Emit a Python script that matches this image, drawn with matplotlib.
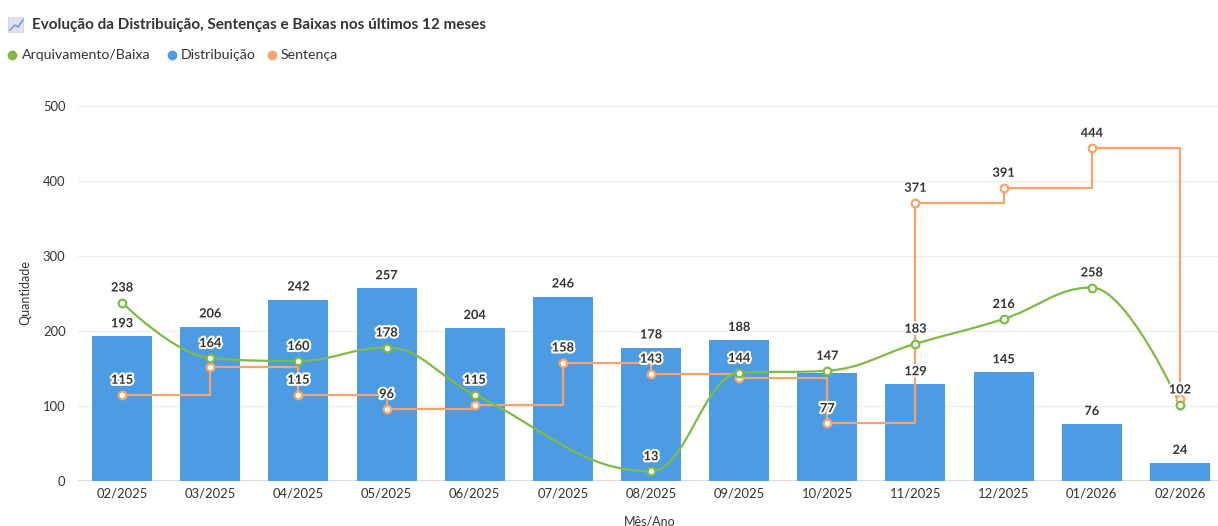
import numpy as np
import matplotlib
matplotlib.use('Agg')
import matplotlib.pyplot as plt
from matplotlib.path import Path
from matplotlib.patches import PathPatch, FancyBboxPatch
from matplotlib.lines import Line2D
import matplotlib.patheffects as pe

# ---------------- data ----------------
months = ['02/2025', '03/2025', '04/2025', '05/2025', '06/2025', '07/2025', '08/2025',
          '09/2025', '10/2025', '11/2025', '12/2025', '01/2026', '02/2026']
distribuicao = [193, 206, 242, 257, 204, 246, 178, 188, 144, 129, 145, 76, 24]
arquivamento = [238, 164, 160, 178, 115, None, 13, 144, 147, 183, 216, 258, 102]
sentenca = [115, 152, 115, 96, 102, 158, 143, 137, 77, 371, 391, 444, 110]
# labels hidden in the original because of overlap
hidden_dist = [8]
hidden_sent = [1, 4, 7, 12]

title = 'Evolução da Distribuição, Sentenças e Baixas nos últimos 12 meses'
series_names = ['Arquivamento/Baixa', 'Distribuição', 'Sentença']

C_BLUE = '#4d9be2'
C_GREEN = '#7dbb45'
C_ORANGE = '#f5a56c'
C_TEXT = '#333333'

plt.rcParams['font.family'] = ['Lato', 'DejaVu Sans']

W, H = 1218, 526
fig = plt.figure(figsize=(W / 100, H / 100), dpi=100)
fig.patch.set_facecolor('white')
ax = fig.add_axes([78 / W, (H - 481) / H, 1146 / W, 375 / H])

x = np.arange(len(months))
ax.set_xlim(-0.5, len(months) - 0.5)
ax.set_ylim(0, 500)

# grid
for yv in [100, 200, 300, 400, 500]:
    ax.axhline(yv, color='#efefef', lw=1, zorder=0)
ax.axhline(0, color='#d6d6d6', lw=1.2, zorder=1)
for s in ax.spines.values():
    s.set_visible(False)

# bars
ax.bar(x, distribuicao, width=0.68, color=C_BLUE, zorder=2)


def hc_spline(xs, ys, smoothing=1.5):
    denom = smoothing + 1
    n = len(xs)
    left = [None] * n
    right = [None] * n
    for i in range(1, n - 1):
        px, py = xs[i], ys[i]
        lx, ly = xs[i - 1], ys[i - 1]
        nx, ny = xs[i + 1], ys[i + 1]
        lcx = (smoothing * px + lx) / denom
        lcy = (smoothing * py + ly) / denom
        rcx = (smoothing * px + nx) / denom
        rcy = (smoothing * py + ny) / denom
        if rcx != lcx:
            corr = ((rcy - lcy) * (rcx - px)) / (rcx - lcx) + py - rcy
            lcy += corr
            rcy += corr
        if lcy > ly and lcy > py:
            lcy = max(ly, py); rcy = 2 * py - lcy
        elif lcy < ly and lcy < py:
            lcy = min(ly, py); rcy = 2 * py - lcy
        if rcy > ny and rcy > py:
            rcy = max(ny, py); lcy = 2 * py - rcy
        elif rcy < ny and rcy < py:
            rcy = min(ny, py); lcy = 2 * py - rcy
        left[i] = (lcx, lcy)
        right[i] = (rcx, rcy)
    verts = [(xs[0], ys[0])]
    codes = [Path.MOVETO]
    for i in range(1, n):
        c1 = right[i - 1] if right[i - 1] else (xs[i - 1], ys[i - 1])
        c2 = left[i] if left[i] else (xs[i], ys[i])
        verts += [c1, c2, (xs[i], ys[i])]
        codes += [Path.CURVE4] * 3
    return Path(verts, codes)


# orange step line
ax.plot(x, sentenca, drawstyle='steps-post', color=C_ORANGE, lw=1.6, zorder=3)
ax.plot(x, sentenca, ls='none', marker='o', ms=5.5, mfc='white', mec=C_ORANGE, mew=1.6, zorder=4)

# green spline
gx = [xi for xi, v in zip(x, arquivamento) if v is not None]
gy = [v for v in arquivamento if v is not None]
ax.add_patch(PathPatch(hc_spline(gx, gy), fill=False, edgecolor=C_GREEN, lw=1.6, zorder=3))
ax.plot(gx, gy, ls='none', marker='o', ms=5.5, mfc='white', mec=C_GREEN, mew=1.6, zorder=4)

outline = [pe.withStroke(linewidth=3, foreground='white')]

# labels
for i, v in enumerate(distribuicao):
    if i in hidden_dist:
        continue
    ax.annotate(str(v), (x[i], v), xytext=(0, 13), textcoords='offset pixels',
                ha='center', va='center', fontsize=9.2, fontweight='bold', color=C_TEXT,
                path_effects=outline, zorder=6)
for i, v in enumerate(sentenca):
    if i in hidden_sent:
        continue
    ax.annotate(str(v), (x[i], v), xytext=(0, 15), textcoords='offset pixels',
                ha='center', va='center', fontsize=9.2, fontweight='bold', color=C_TEXT,
                path_effects=outline, zorder=6)
for xi, v in zip(gx, gy):
    ax.annotate(str(v), (xi, v), xytext=(0, 15), textcoords='offset pixels',
                ha='center', va='center', fontsize=9.2, fontweight='bold', color=C_TEXT,
                path_effects=outline, zorder=6)

# ticks
ax.set_xticks(x)
ax.set_xticklabels(months, fontsize=9.4, color=C_TEXT)
ax.set_yticks([0, 100, 200, 300, 400, 500])
ax.set_yticklabels(['0', '100', '200', '300', '400', '500'], fontsize=9.4, color=C_TEXT)
ax.tick_params(axis='both', length=0)
ax.tick_params(axis='x', pad=5)
ax.tick_params(axis='y', pad=9)

fig.text(25 / W, 1 - 293 / H, 'Quantidade', rotation=90, ha='center', va='center',
         fontsize=9, color=C_TEXT)
fig.text(650 / W, 1 - 521 / H, 'Mês/Ano', ha='center', va='center', fontsize=9, color=C_TEXT)

# title with small icon
fig.patches.append(FancyBboxPatch((9 / W, 1 - 32 / H), 14 / W, 14 / H,
                                  boxstyle='round,pad=0.0005', transform=fig.transFigure,
                                  facecolor='#e6def2', edgecolor='#d5cbe6', lw=0.6))
fig.lines.append(Line2D([10 / W, 15 / W, 18 / W, 23 / W],
                        [1 - 30 / H, 1 - 25 / H, 1 - 27 / H, 1 - 20 / H],
                        transform=fig.transFigure, color='#6f9fe0', lw=1.2))
fig.text(32 / W, 1 - 25 / H, title, ha='left', va='center', fontsize=11,
         fontweight='bold', color=C_TEXT)

# legend
leg_items = [(12, 22, series_names[0], C_GREEN),
             (172, 181, series_names[1], C_BLUE),
             (272, 281, series_names[2], C_ORANGE)]
for mx, tx, name, col in leg_items:
    fig.lines.append(Line2D([mx / W], [1 - 55 / H], transform=fig.transFigure, marker='o',
                            ms=6, color=col, ls='none'))
    fig.text(tx / W, 1 - 55 / H, name, ha='left', va='center', fontsize=10.2, color=C_TEXT)

fig.savefig('out.png', dpi=100, facecolor='white')
